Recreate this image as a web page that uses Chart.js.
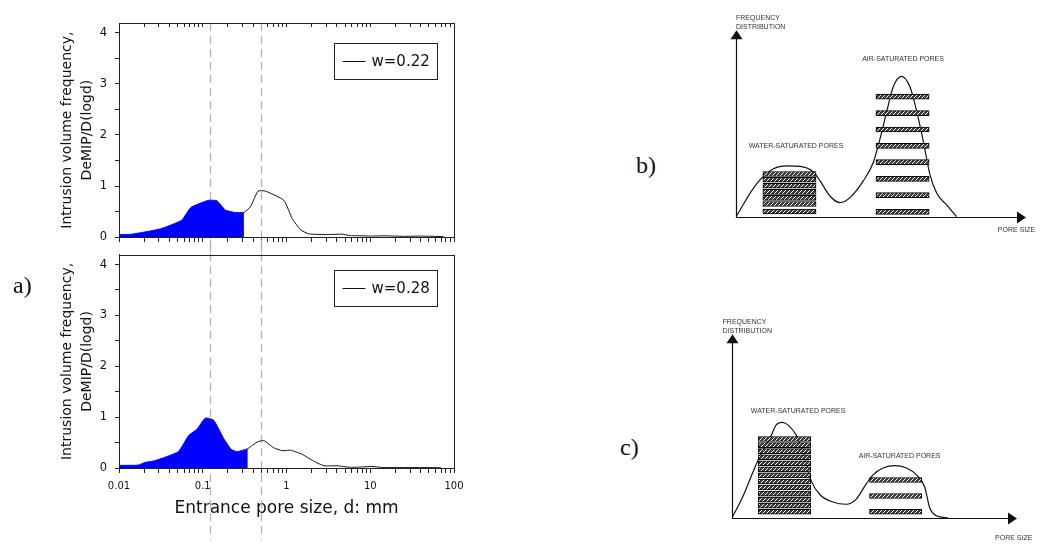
<!DOCTYPE html>
<html>
<head>
<meta charset="utf-8">
<script src="https://cdn.jsdelivr.net/npm/chart.js@4.4.1/dist/chart.umd.min.js"></script>
<style>
  html, body { margin: 0; padding: 0; background: #fff; }
  #page { position: relative; width: 1043px; height: 548px; overflow: hidden; }
  canvas { position: absolute; }
  .tag { position: absolute; font-family: 'Liberation Serif', 'Times New Roman', serif; font-size: 24px; line-height: 24px; color: #111; }
</style>
</head>
<body>
<div id="page">
  <canvas id="poreTop" width="480" height="252" style="left:0px;top:0px"></canvas>
  <canvas id="poreBottom" width="480" height="308" style="left:0px;top:240px"></canvas>
  <canvas id="schemeB" width="343" height="270" style="left:700px;top:0px"></canvas>
  <canvas id="schemeC" width="343" height="268" style="left:700px;top:280px"></canvas>
  <div class="tag" style="left:13px;top:273px">a)</div>
  <div class="tag" style="left:636px;top:153px">b)</div>
  <div class="tag" style="left:620px;top:435px">c)</div>
</div>
<script>
// --- a) pore size distributions (MIP) ---
const poreSizeW22 = [0.0078, 0.0101, 0.0142, 0.031, 0.056, 0.072, 0.117, 0.148, 0.186, 0.245, 0.31, 0.37, 0.457, 0.56, 0.93, 1.17, 1.47, 1.85, 3.07, 4.6, 5.8, 8, 10, 15, 25, 40, 75];
const freqW22 = [0.01, 0.05, 0.057, 0.16, 0.33, 0.58, 0.72, 0.71, 0.53, 0.48, 0.48, 0.59, 0.9, 0.9, 0.72, 0.36, 0.145, 0.063, 0.05, 0.057, 0.03, 0.025, 0.02, 0.025, 0.015, 0.02, 0.01];
const waterLimitW22 = 0.31;

const poreSizeW28 = [0.0078, 0.0102, 0.017, 0.0204, 0.027, 0.051, 0.0676, 0.085, 0.107, 0.135, 0.178, 0.218, 0.257, 0.345, 0.447, 0.536, 0.7, 0.89, 1.12, 1.54, 2.03, 2.8, 4.0, 5.8, 8, 10.5, 14, 25, 40, 70];
const freqW28 = [0.02, 0.05, 0.057, 0.11, 0.145, 0.32, 0.635, 0.76, 0.98, 0.94, 0.58, 0.37, 0.32, 0.38, 0.51, 0.54, 0.4, 0.34, 0.35, 0.27, 0.15, 0.044, 0.044, 0.013, 0.02, 0.03, 0.01, 0.008, 0.01, 0.005];
const waterLimitW28 = 0.345;

const guideSizes = [0.123, 0.5];
const xMajor = [0.01, 0.1, 1, 10, 100];
const xTickLabels = ['0.01', '0.1', '1', '10', '100'];
const yTicks = [0, 0.5, 1, 1.5, 2, 2.5, 3, 3.5, 4];
const yTickLabels = ['0', '1', '2', '3', '4'];

// --- b) and c) schematic distributions ---
const curveBX = [0, 7.1, 12.9, 17.5, 22.1, 26.7, 29.0, 32.4, 35.9, 39.3, 43.9, 47.3, 49.7, 52.0, 54.2, 57.1, 60.0, 62.3, 64.6, 66.9, 69.2, 72.7, 76.1];
const curveBY = [0, 17.6, 25.7, 27.3, 27.0, 24.0, 19.2, 11.1, 7.5, 10.2, 19.2, 28.9, 42.0, 56.6, 69.6, 75.3, 69.6, 56.6, 40.3, 22.4, 12.7, 6.2, 0];
const waterRowsB = [22.9, 19.8, 16.6, 13.3, 10.1, 6.8, 2.8];
const airRowsB = [64.4, 55.6, 46.8, 38.0, 29.3, 20.3, 11.6, 2.6];

const curveCX = [0, 3.9, 7.4, 9.7, 13.8, 15.5, 17.6, 19.6, 22.6, 25.5, 27.8, 30.8, 35.4, 40.1, 43.6, 47.1, 49.5, 53.0, 57.1, 61.2, 64.7, 67.6, 69.4, 71.7, 75.8];
const curveCY = [0, 11.9, 25.1, 33.3, 44.9, 50.6, 52.0, 50.6, 44.9, 33.3, 20.1, 12.7, 8.6, 7.4, 10.2, 18.5, 23.4, 27.1, 28.4, 27.1, 23.4, 16.8, 5.3, 1.1, 0];
const waterRowsC = [42.9, 39.6, 36.3, 33.0, 29.7, 26.4, 23.1, 19.8, 16.5, 13.2, 9.9, 6.6, 3.3];
const airRowsC = [20.6, 11.9, 3.3];
const waterSpan = [9.25, 27.6];
const airSpan = [48.25, 66.6];

Chart.defaults.font.family = "'DejaVu Sans', Verdana, sans-serif";
Chart.defaults.color = '#111';
Chart.defaults.animation = false;

function logTicks() {
  const t = [];
  for (let e = -2; e <= 1; e++) {
    for (let k = 1; k <= 9; k++) t.push(+(k * Math.pow(10, e)).toPrecision(6));
  }
  t.push(100);
  return t.map(v => ({ value: v }));
}

const frame = {
  id: 'frame',
  afterDraw(chart) {
    const { ctx, chartArea: a } = chart;
    ctx.save();
    ctx.strokeStyle = '#222';
    ctx.lineWidth = 1;
    ctx.strokeRect(Math.round(a.left) + 0.5, Math.round(a.top) + 0.5, Math.round(a.right - a.left), Math.round(a.bottom - a.top));
    ctx.restore();
  }
};

const guideLines = {
  id: 'guideLines',
  beforeDatasetsDraw(chart, args, opts) {
    const { ctx, scales: { x } } = chart;
    ctx.save();
    ctx.strokeStyle = '#b4b4b4';
    ctx.lineWidth = 1.3;
    ctx.setLineDash([8, 5]);
    guideSizes.forEach(d => {
      const px = Math.round(x.getPixelForValue(d)) + 0.5;
      ctx.beginPath();
      ctx.moveTo(px, opts.from);
      ctx.lineTo(px, opts.to);
      ctx.stroke();
    });
    ctx.restore();
  }
};

const boxLegend = {
  id: 'boxLegend',
  afterDatasetsDraw(chart, args, opts) {
    const { ctx, chartArea } = chart;
    const ds = chart.data.datasets[1];
    const w = 103, h = 36;
    const x0 = Math.round(chartArea.right - 17 - w) + 0.5;
    const y0 = Math.round(chartArea.top + opts.offsetTop) + 0.5;
    ctx.save();
    ctx.fillStyle = '#fff';
    ctx.fillRect(x0, y0, w, h);
    ctx.strokeStyle = '#222';
    ctx.lineWidth = 1;
    ctx.strokeRect(x0, y0, w, h);
    const cy = y0 + h / 2;
    ctx.strokeStyle = ds.borderColor;
    ctx.beginPath();
    ctx.moveTo(x0 + 8, cy);
    ctx.lineTo(x0 + 31, cy);
    ctx.stroke();
    ctx.fillStyle = '#111';
    ctx.font = "15px 'DejaVu Sans'";
    ctx.textBaseline = 'middle';
    ctx.fillText(ds.label, x0 + 37, cy + 1);
    ctx.restore();
  }
};

function makePoreChart(id, sizes, freqs, limit, label, isBottom) {
  const pts = sizes.map((d, i) => ({ x: d, y: freqs[i] }));
  const scales = {
    x: {
      type: 'logarithmic', min: 0.01, max: 100,
      afterBuildTicks: s => { s.ticks = logTicks(); },
      afterFit: s => { s.height = isBottom ? 80 : 6; },
      grid: { drawOnChartArea: false, drawTicks: true, tickLength: 5, tickColor: '#222' },
      border: { display: true, color: '#222', width: 1 },
      ticks: {
        display: isBottom, autoSkip: false, maxRotation: 0, padding: 7,
        font: { size: 10 },
        callback: v => { const i = xMajor.indexOf(v); return i >= 0 ? xTickLabels[i] : ''; }
      },
      title: {
        display: isBottom, text: 'Entrance pore size, d: mm',
        font: { size: 17 }, padding: { top: 0, bottom: 29 }
      }
    },
    y: {
      min: 0, max: 4.19,
      afterBuildTicks: s => { s.ticks = yTicks.map(v => ({ value: v })); },
      afterFit: s => { s.width = 119; },
      grid: { drawOnChartArea: false, drawTicks: true, tickLength: 4, tickColor: '#222' },
      border: { display: true, color: '#222', width: 1 },
      ticks: {
        autoSkip: false, padding: 8, font: { size: 11.5 },
        callback: v => Number.isInteger(v) ? yTickLabels[v] : ''
      },
      title: {
        display: true, text: ['Intrusion volume frequency,', 'DeMIP/D(logd)'],
        font: { size: 14, lineHeight: 1.4 }, padding: { top: 58, bottom: 0 }
      }
    }
  };
  if (!isBottom) {
    scales.x2 = {
      type: 'logarithmic', position: 'top', min: 0.01, max: 100,
      afterBuildTicks: s => { s.ticks = logTicks(); },
      afterFit: s => { s.height = 0; },
      grid: { drawOnChartArea: false, drawTicks: true, tickLength: -4, tickColor: '#222' },
      border: { display: true, color: '#222', width: 1 },
      ticks: { display: false }
    };
  }
  return new Chart(document.getElementById(id), {
    type: 'line',
    data: {
      datasets: [
        {
          label: 'water', data: pts.filter(p => p.x <= limit),
          borderColor: '#0000ff', backgroundColor: '#0000ff', borderWidth: 1,
          fill: 'origin', pointRadius: 0, tension: 0.15
        },
        {
          label: label, data: pts.filter(p => p.x >= limit),
          borderColor: '#111', borderWidth: 1, fill: false, pointRadius: 0, tension: 0.15
        }
      ]
    },
    options: {
      responsive: false,
      devicePixelRatio: 1,
      events: [],
      layout: { padding: { top: isBottom ? 6 : 23, left: 0, right: 26, bottom: 0 } },
      scales: scales,
      plugins: {
        legend: { display: false },
        tooltip: { enabled: false },
        guideLines: isBottom ? { from: 0, to: 300 } : { from: 23, to: 252 },
        boxLegend: { offsetTop: isBottom ? 15 : 20 }
      }
    },
    plugins: [guideLines, frame, boxLegend]
  });
}

makePoreChart('poreTop', poreSizeW22, freqW22, waterLimitW22, 'w=0.22', false);
makePoreChart('poreBottom', poreSizeW28, freqW28, waterLimitW28, 'w=0.28', true);

// ---- schematic panels ----
function makeHatch(ctx) {
  const c = document.createElement('canvas');
  c.width = 4; c.height = 4;
  const g = c.getContext('2d');
  g.fillStyle = '#3a3a3a';
  g.fillRect(0, 0, 4, 4);
  g.strokeStyle = '#f4f4f4';
  g.lineWidth = 1;
  g.beginPath();
  g.moveTo(0, 4); g.lineTo(4, 0);
  g.moveTo(-1, 1); g.lineTo(1, -1);
  g.moveTo(3, 5); g.lineTo(5, 3);
  g.stroke();
  return ctx.createPattern(c, 'repeat');
}

const arrowAxes = {
  id: 'arrowAxes',
  afterDatasetsDraw(chart) {
    const { ctx, scales: { x, y } } = chart;
    const x0 = Math.round(x.getPixelForValue(0)) + 0.5;
    const y0 = Math.round(y.getPixelForValue(0)) + 0.5;
    const yTip = y.getPixelForValue(100);
    const xTip = x.getPixelForValue(100);
    ctx.save();
    ctx.strokeStyle = '#111';
    ctx.fillStyle = '#111';
    ctx.lineWidth = 1.2;
    ctx.beginPath();
    ctx.moveTo(x0, yTip + 4); ctx.lineTo(x0, y0); ctx.lineTo(xTip - 4, y0);
    ctx.stroke();
    ctx.beginPath();
    ctx.moveTo(x0, yTip); ctx.lineTo(x0 - 6, yTip + 9); ctx.lineTo(x0 + 6, yTip + 9); ctx.closePath();
    ctx.fill();
    ctx.beginPath();
    ctx.moveTo(xTip, y0); ctx.lineTo(xTip - 9, y0 - 6); ctx.lineTo(xTip - 9, y0 + 6); ctx.closePath();
    ctx.fill();
    ctx.restore();
  }
};

const notes = {
  id: 'notes',
  afterDraw(chart, args, opts) {
    const { ctx, scales: { x, y } } = chart;
    ctx.save();
    ctx.fillStyle = '#333';
    ctx.font = "7px 'Liberation Sans', Arial, sans-serif";
    ctx.textBaseline = 'middle';
    opts.items.forEach(n => {
      ctx.textAlign = n.align;
      ctx.fillText(n.text, x.getPixelForValue(n.x), y.getPixelForValue(n.y));
    });
    ctx.restore();
  }
};

function makeScheme(id, curveX, curveY, waterRows, airRows, padding, items) {
  const canvas = document.getElementById(id);
  const hatch = makeHatch(canvas.getContext('2d'));
  const barStyle = {
    type: 'bar', indexAxis: 'y', backgroundColor: hatch, borderColor: '#000',
    borderWidth: 1, borderSkipped: false, barThickness: 5, grouped: false, order: 1
  };
  return new Chart(canvas, {
    type: 'line',
    data: {
      datasets: [
        Object.assign({ label: 'water-saturated', data: waterRows.map(r => ({ y: r, x: waterSpan })) }, barStyle),
        Object.assign({ label: 'air-saturated', data: airRows.map(r => ({ y: r, x: airSpan })) }, barStyle),
        {
          type: 'line', label: 'frequency', data: curveX.map((v, i) => ({ x: v, y: curveY[i] })),
          borderColor: '#111', borderWidth: 1.2, pointRadius: 0, fill: false,
          cubicInterpolationMode: 'monotone', order: 2
        }
      ]
    },
    options: {
      responsive: false,
      devicePixelRatio: 1,
      events: [],
      layout: { padding: padding },
      scales: {
        x: { type: 'linear', min: 0, max: 100, display: false },
        y: { type: 'linear', min: 0, max: 100, display: false }
      },
      plugins: {
        legend: { display: false },
        tooltip: { enabled: false },
        notes: { items: items }
      }
    },
    plugins: [arrowAxes, notes]
  });
}

makeScheme('schemeB', curveBX, curveBY, waterRowsB, airRowsB,
  { left: 36, right: 17, top: 21, bottom: 44 },
  [
    { text: 'FREQUENCY', x: 0, y: 106.8, align: 'left' },
    { text: 'DISTRIBUTION', x: 0, y: 102, align: 'left' },
    { text: 'AIR-SATURATED PORES', x: 57.6, y: 84.4, align: 'center' },
    { text: 'WATER-SATURATED PORES', x: 20.7, y: 37.7, align: 'center' },
    { text: 'PORE SIZE', x: 90.3, y: -7.3, align: 'left' }
  ]);

makeScheme('schemeC', curveCX, curveCY, waterRowsC, airRowsC,
  { left: 32, right: 26, top: 45, bottom: 21 },
  [
    { text: 'FREQUENCY', x: -3.3, y: 106.8, align: 'left' },
    { text: 'DISTRIBUTION', x: -3.3, y: 101.6, align: 'left' },
    { text: 'WATER-SATURATED PORES', x: 23.2, y: 58.1, align: 'center' },
    { text: 'AIR-SATURATED PORES', x: 58.8, y: 33.8, align: 'center' },
    { text: 'PORE SIZE', x: 92.3, y: -10.9, align: 'left' }
  ]);
</script>
</body>
</html>
